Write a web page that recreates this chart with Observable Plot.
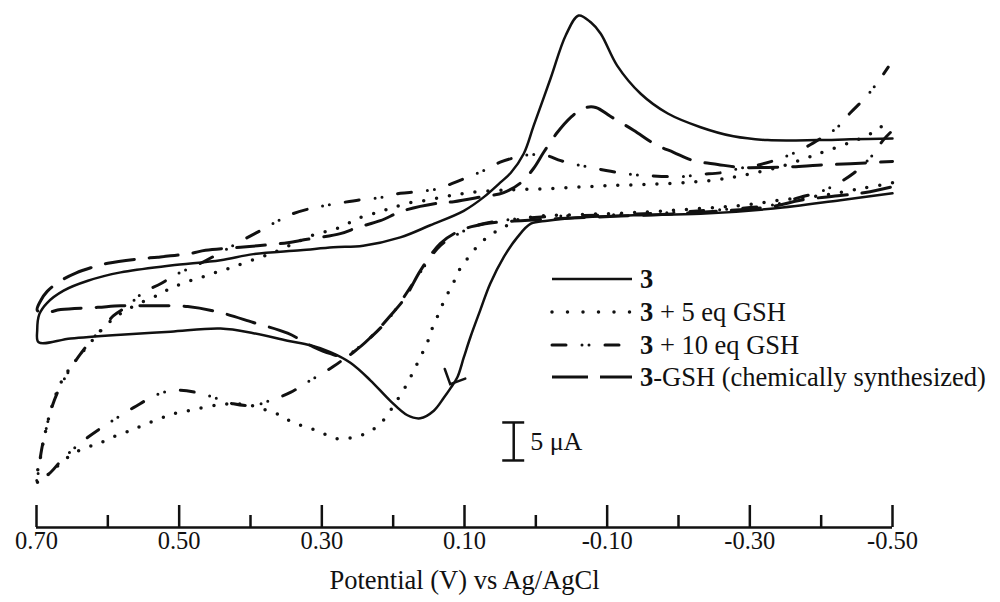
<!DOCTYPE html>
<html><head><meta charset="utf-8">
<script src="https://cdn.jsdelivr.net/npm/d3@7"></script>
<script src="https://cdn.jsdelivr.net/npm/@observablehq/plot@0.6"></script>
<style>
body{margin:0;background:#fff;}
#wrap{position:relative;width:1000px;height:602px;}
#wrap svg{display:block;}
#legend{position:absolute;left:0;top:0;pointer-events:none;}
</style></head><body><div id="wrap"></div>
<script>
// x: potential (V vs Ag/AgCl), y: current (µA, arbitrary offset)
const majorTicks = [0.70, 0.50, 0.30, 0.10, -0.10, -0.30, -0.50];
const minorTicks = [0.60, 0.40, 0.20, 0.00, -0.20, -0.40];
const axisTitle = "Potential (V) vs Ag/AgCl";

// Series "3" (solid)
const s3_E = [-0.500,-0.427,-0.333,-0.231,-0.137,-0.044,-0.016,0.007,0.026,0.045,0.064,0.078,0.092,0.101,0.110,0.120,0.129,0.143,0.162,0.180,0.204,0.232,0.260,0.288,0.316,0.348,0.396,0.442,0.512,0.582,0.652,0.697,
  0.699,0.696,0.685,0.662,0.628,0.582,0.512,0.442,0.396,0.330,0.284,0.242,0.190,0.148,0.101,0.073,0.050,0.035,0.017,0.003,-0.021,-0.042,-0.060,-0.077,-0.091,-0.114,-0.147,-0.185,-0.231,-0.277,-0.325,-0.395,-0.441,-0.500];
const s3_I = [14.1,13.2,12.1,11.4,11.2,10.8,10.5,10.1,8.3,5.7,2.2,-1.3,-4.9,-7.5,-10.1,-11.6,-12.8,-14.5,-15.5,-15.1,-13.2,-10.5,-8.2,-6.8,-5.9,-5.3,-4.3,-3.7,-4.1,-4.5,-5.0,-5.5,
  -3.9,-1.8,-0.3,1.3,2.6,3.7,4.6,5.3,6.1,6.6,7.0,7.2,8.3,9.9,11.8,13.6,15.5,16.8,19.3,23.0,29.3,34.9,37.5,36.6,35.1,30.9,27.2,24.6,22.8,21.6,21.1,21.1,21.2,21.3];

// Series "3 + 5 eq GSH" (dotted)
const s5_E = [-0.500,-0.455,-0.399,-0.343,-0.287,-0.231,-0.147,-0.063,-0.007,0.029,0.045,0.064,0.082,0.096,0.108,0.117,0.127,0.136,0.145,0.152,0.162,0.171,0.180,0.193,0.204,0.218,0.236,0.256,0.278,0.298,0.319,0.340,0.358,0.376,0.400,0.424,0.442,0.466,0.487,0.508,0.526,0.550,0.568,0.589,0.610,0.628,0.648,0.666,0.680,0.699,
  0.694,0.687,0.678,0.664,0.645,0.624,0.603,0.582,0.554,0.530,0.512,0.491,0.470,0.449,0.428,0.407,0.368,0.330,0.306,0.284,0.264,0.246,0.222,0.204,0.180,0.152,0.120,0.092,0.050,-0.014,-0.100,-0.189,-0.255,-0.297,-0.343,-0.381,-0.402,-0.441,-0.465,-0.483,-0.497];
const s5_I = [15.5,14.7,13.8,13.2,12.5,12.1,11.6,11.3,11.1,10.5,9.6,8.6,7.1,5.5,3.9,2.0,0.3,-1.7,-3.6,-5.5,-7.5,-9.2,-10.9,-12.9,-14.5,-16.2,-17.4,-18.0,-18.2,-17.5,-16.7,-16.1,-15.1,-14.5,-13.8,-13.6,-13.7,-14.1,-14.5,-14.9,-15.5,-16.4,-17.1,-17.8,-18.7,-19.3,-20.1,-21.4,-22.6,-23.9,
  -20.4,-17.1,-13.8,-10.5,-7.9,-5.5,-3.3,-1.7,-0.3,0.7,1.6,2.4,3.0,3.7,4.3,5.0,6.3,7.9,8.8,9.3,10.1,10.9,11.6,12.1,12.8,13.2,13.8,14.2,14.5,14.7,15.1,15.4,15.9,16.6,17.6,18.8,19.5,20.8,21.7,22.8,23.4];

// Series "3 + 10 eq GSH" (dash-dot-dot)
const s10_E = [-0.497,-0.487,-0.469,-0.445,-0.423,-0.399,-0.371,-0.333,-0.231,-0.119,-0.035,0.021,0.050,0.078,0.106,0.134,0.162,0.186,0.208,0.232,0.257,0.284,0.316,0.344,0.368,0.396,0.424,0.460,0.498,0.526,0.564,0.600,0.628,0.662,0.680,0.699,
  0.697,0.693,0.687,0.680,0.671,0.662,0.650,0.638,0.624,0.607,0.592,0.572,0.550,0.526,0.505,0.474,0.446,0.414,0.386,0.365,0.344,0.316,0.295,0.270,0.242,0.214,0.190,0.166,0.138,0.117,0.096,0.073,0.050,0.029,0.007,-0.014,-0.035,-0.056,-0.077,-0.105,-0.133,-0.161,-0.203,-0.231,-0.259,-0.287,-0.315,-0.343,-0.375,-0.399,-0.423,-0.441,-0.462,-0.479,-0.494];
const s10_I = [22.1,21.1,18.8,16.7,15.4,14.3,13.6,12.6,11.8,11.3,11.1,10.8,10.5,10.0,8.9,7.2,3.7,0.3,-2.6,-4.9,-6.8,-8.7,-10.5,-12.1,-13.0,-13.8,-13.6,-12.5,-11.8,-12.2,-14.1,-16.2,-18.0,-20.7,-22.6,-23.9,
  -22.4,-19.7,-17.1,-14.5,-12.2,-10.5,-8.6,-7.0,-5.3,-3.6,-2.0,-0.7,1.1,2.2,3.4,4.7,6.1,7.8,9.2,10.3,11.3,12.1,12.5,12.9,13.3,13.6,14.1,14.3,14.7,15.4,16.2,17.1,18.2,18.8,19.2,19.1,18.4,17.9,17.5,17.0,16.6,16.4,16.3,16.6,16.8,17.4,17.9,18.7,20.0,21.3,22.8,24.7,26.7,28.7,30.7];

// Series "3-GSH (chemically synthesized)" (long dash)
const sG_E = [-0.497,-0.462,-0.427,-0.371,-0.333,-0.231,-0.119,-0.035,0.021,0.071,0.106,0.134,0.162,0.183,0.204,0.229,0.249,0.267,0.288,0.312,0.348,0.396,0.442,0.488,0.540,0.582,0.614,0.666,0.687,0.699,
  0.694,0.685,0.666,0.645,0.624,0.600,0.554,0.530,0.484,0.463,0.414,0.390,0.348,0.330,0.274,0.250,0.218,0.186,0.138,0.115,0.078,0.045,0.021,0.003,-0.011,-0.030,-0.049,-0.067,-0.084,-0.105,-0.137,-0.168,-0.193,-0.221,-0.255,-0.287,-0.325,-0.361,-0.395,-0.441,-0.500];
const sG_I = [14.9,14.2,13.8,13.2,12.4,11.6,11.1,10.8,10.5,10.1,9.2,7.5,3.9,0.4,-2.0,-4.6,-6.3,-7.4,-7.0,-6.1,-4.3,-2.9,-1.6,-0.8,-0.7,-0.7,-0.9,-1.2,-1.6,-1.3,
  0.0,1.2,2.6,3.6,4.3,4.9,5.5,5.7,6.2,6.6,7.0,7.2,7.6,7.9,8.8,9.6,10.5,11.8,12.8,13.0,13.6,14.2,15.5,17.4,19.5,22.1,24.1,25.3,25.4,24.2,22.4,20.5,19.5,18.4,17.9,17.5,17.5,17.6,17.8,18.0,18.3];

// Scan-direction arrowhead on "3" (tip position)
const arrowE = [0.120];
const arrowI = [-11.0];

// Scale bar (5 µA)
const scaleBarE = 0.031;
const scaleBarBase = -21.05;
const scaleBarSpan = 5;
const scaleBarLabel = "5 μA";

// Legend
const legendBold = ["3", "3", "3", "3"];
const legendRest = ["", " + 5 eq GSH", " + 10 eq GSH", "-GSH (chemically synthesized)"];

const styles = [
  {strokeWidth: 2.5},
  {strokeWidth: 3.5, strokeDasharray: "0 13", strokeLinecap: "round"},
  {strokeWidth: 3, strokeDasharray: "14 16 0 7 0 16", strokeLinecap: "round"},
  {strokeWidth: 3, strokeDasharray: "29 15", strokeLinecap: "round"}
];

const toRows = (E, I) => E.map((e, i) => ({E: e, I: I[i]}));
const series = [toRows(s3_E, s3_I), toRows(s5_E, s5_I), toRows(s10_E, s10_I), toRows(sG_E, sG_I)];

// open chevron symbol, tip at the anchor, rotated to follow the scan direction
const chevron = {
  draw(ctx, size) {
    const r = Math.sqrt(size / Math.PI);
    const rot = 25 * Math.PI / 180, spread = 45 * Math.PI / 180;
    const arm = (a) => {
      const x = Math.sin(a) * r, y = -Math.cos(a) * r;
      return [x * Math.cos(rot) - y * Math.sin(rot), x * Math.sin(rot) + y * Math.cos(rot)];
    };
    const [lx, ly] = arm(-spread), [rx, ry] = arm(spread);
    ctx.moveTo(lx, ly); ctx.lineTo(0, 0); ctx.lineTo(rx, ry);
  }
};

const yDomain = [-29.87, 39.47];
const font = '"Liberation Serif","Times New Roman",serif';

const chart = Plot.plot({
  width: 1000, height: 602,
  marginLeft: 36, marginRight: 108, marginTop: 0, marginBottom: 75,
  x: {domain: [0.70, -0.50], axis: null},
  y: {domain: yDomain, axis: null},
  style: {fontFamily: font, background: "#fff", color: "#111", overflow: "visible"},
  marks: [
    Plot.ruleY([yDomain[0]], {strokeWidth: 2.5}),
    Plot.ruleX(majorTicks, {insetTop: 505, strokeWidth: 2.5}),
    Plot.ruleX(minorTicks, {insetTop: 515, strokeWidth: 2.5}),
    Plot.text(majorTicks, {x: d => d, text: d => d.toFixed(2), frameAnchor: "bottom", dy: 21, fontSize: 24.5}),
    Plot.text([axisTitle], {frameAnchor: "bottom", dy: 61, fontSize: 26.5}),
    ...series.map((rows, k) => Plot.line(rows, {x: "E", y: "I", curve: "catmull-rom", stroke: "#111", ...styles[k]})),
    Plot.dot(arrowE.map((e, i) => ({E: e, I: arrowI[i]})), {x: "E", y: "I", symbol: chevron, r: 16, fill: "none", stroke: "#111", strokeWidth: 2.5, strokeLinecap: "round", strokeLinejoin: "miter"}),
    Plot.ruleX([scaleBarE], {y1: scaleBarBase, y2: scaleBarBase + scaleBarSpan, strokeWidth: 2.5}),
    Plot.ruleY([scaleBarBase, scaleBarBase + scaleBarSpan], {x1: scaleBarE + 0.0154, x2: scaleBarE - 0.0154, strokeWidth: 2.5}),
    Plot.text([scaleBarLabel], {x: 0.008, y: scaleBarBase + scaleBarSpan / 2, textAnchor: "start", fontSize: 26})
  ]
});

const wrap = document.getElementById("wrap");
wrap.appendChild(chart);

// Legend overlay
const leg = d3.create("svg").attr("id", "legend").attr("width", 1000).attr("height", 602);
const rowY = [279, 312, 345, 377];
legendBold.forEach((b, k) => {
  const st = styles[k];
  const ln = leg.append("line")
    .attr("x1", 552).attr("x2", 632).attr("y1", rowY[k]).attr("y2", rowY[k])
    .attr("stroke", "#111").attr("stroke-width", st.strokeWidth)
    .attr("stroke-linecap", st.strokeLinecap || "butt");
  if (k === 3) ln.attr("stroke-dasharray", "36 12").attr("stroke-linecap", "butt");
  else if (k === 1) ln.attr("stroke-dasharray", "0 15.5");
  else if (st.strokeDasharray) ln.attr("stroke-dasharray", st.strokeDasharray);
  const t = leg.append("text").attr("x", 640).attr("y", rowY[k] + 9)
    .attr("font-family", font).attr("font-size", 26.5).attr("fill", "#111");
  t.append("tspan").attr("font-weight", "bold").text(b);
  t.append("tspan").text(legendRest[k]);
});
wrap.appendChild(leg.node());
</script></body></html>
